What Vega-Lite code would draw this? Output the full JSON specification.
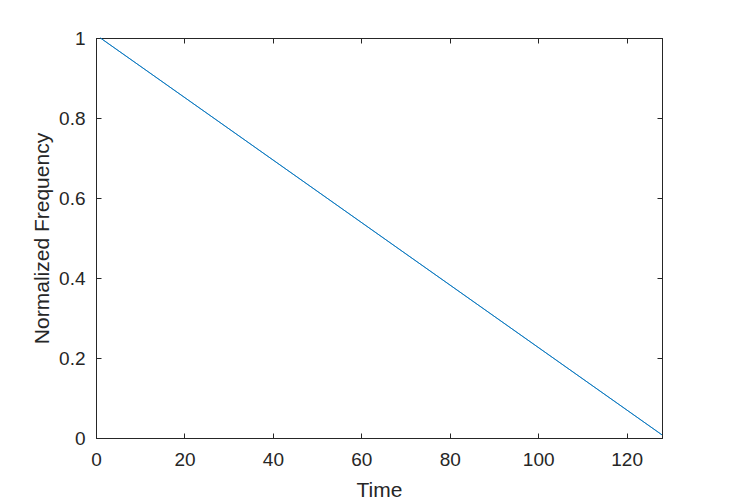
{
  "$schema": "https://vega.github.io/schema/vega-lite/v6.json",
  "width": 566,
  "height": 400,
  "autosize": {"type": "none"},
  "padding": {"left": 96, "top": 38, "right": 70, "bottom": 65},
  "background": "white",
  "config": {
    "view": {"stroke": "#262626", "strokeWidth": 1},
    "axis": {
      "grid": false,
      "domainColor": "#262626",
      "tickColor": "#262626",
      "labelColor": "#262626",
      "titleColor": "#262626",
      "labelFont": "Liberation Sans",
      "titleFont": "Liberation Sans",
      "labelFontSize": 19,
      "titleFontSize": 21,
      "titleFontWeight": "normal",
      "tickSize": -5,
      "domainWidth": 1,
      "tickWidth": 1
    }
  },
  "data": {"values": [{"t": 1, "f": 1}, {"t": 128, "f": 0.0078125}]},
  "layer": [
    {
      "mark": {"type": "line", "color": "#0072BD", "strokeWidth": 0.8},
      "encoding": {
        "x": {"field": "t", "type": "quantitative", "scale": {"domain": [0, 128], "nice": false, "zero": false},
          "axis": {"orient": "bottom", "values": [0, 20, 40, 60, 80, 100, 120], "title": "Time", "labelPadding": 17, "titlePadding": 10, "labelFlush": false}},
        "y": {"field": "f", "type": "quantitative", "scale": {"domain": [0, 1], "nice": false},
          "axis": {"orient": "left", "values": [0, 0.2, 0.4, 0.6, 0.8, 1], "format": "~g", "title": "Normalized Frequency", "labelPadding": 16, "titlePadding": 6, "labelFlush": false}}
      }
    },
    {
      "mark": {"type": "line", "color": "#0072BD", "strokeWidth": 0.8},
      "encoding": {
        "x": {"field": "t", "type": "quantitative", "scale": {"domain": [0, 128], "nice": false, "zero": false},
          "axis": {"orient": "top", "values": [0, 20, 40, 60, 80, 100, 120], "labels": false, "title": null}},
        "y": {"field": "f", "type": "quantitative", "scale": {"domain": [0, 1], "nice": false},
          "axis": {"orient": "right", "values": [0, 0.2, 0.4, 0.6, 0.8, 1], "labels": false, "title": null}}
      }
    }
  ],
  "resolve": {"axis": {"x": "independent", "y": "independent"}}
}
